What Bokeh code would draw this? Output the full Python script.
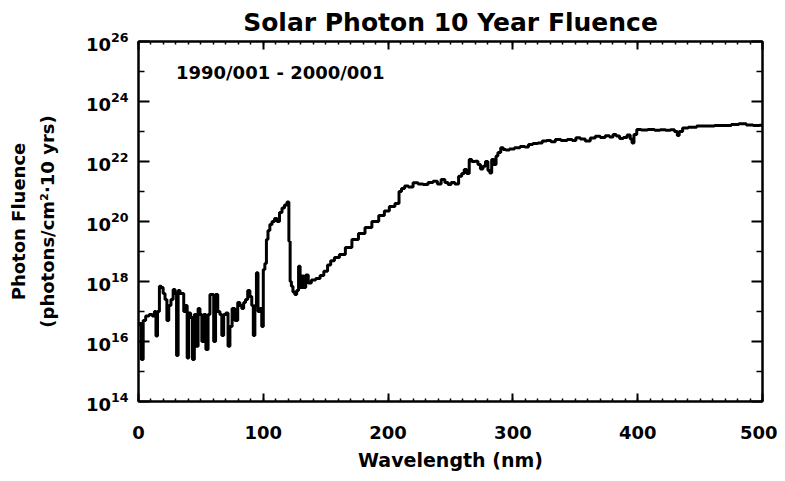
from bokeh.plotting import figure
from bokeh.models import (Range1d, FixedTicker, SingleIntervalTicker, LinearAxis,
                          LogAxis, Label, Title, ColumnDataSource,
                          CustomJSTickFormatter)
from bokeh.embed import file_html
from bokeh.resources import INLINE

# ---------------- data ----------------
title_text = "Solar Photon 10 Year Fluence"
period_text = "1990/001 - 2000/001"
x_label = "Wavelength (nm)"
y_label_1 = "Photon Fluence"
y_label_2 = "(photons/cm\u00b2\u00b710 yrs)"

x_ticks = [0, 100, 200, 300, 400, 500]
y_major_exp = [14, 16, 18, 20, 22, 24, 26]
y_minor_exp = [15, 17, 19, 21, 23, 25]

wavelength_nm = [
    0, 1.5, 3, 4.5, 7, 10, 12, 13.5, 14.5, 16, 17.5, 19, 20.5, 22, 23.5, 25, 27,
    28.5, 30, 31, 32.5, 34, 35.5, 37, 38.5, 39.5, 41, 42.5, 44, 45.5, 47, 48.5,
    50, 51.5, 53, 55, 56.5, 58, 59.5, 61, 62.5, 64.5, 66, 67.5, 69, 71, 72.5,
    74, 76, 78.5, 80.5, 82, 83.5, 85, 86.5, 88.5, 90, 91.5, 92.5, 94, 95, 96.5,
    98, 99.5, 100.5, 102, 103, 104.5, 106, 108, 110, 112, 114, 116, 118, 120,
    121, 122, 123, 124.5, 126, 127.5, 129, 130, 131.5, 133, 135, 137, 140, 144,
    147, 150, 153, 155, 159, 163, 168.5, 173.5, 179, 184, 190, 195, 199, 203,
    208, 209.5, 212, 214.5, 218, 222, 226, 230, 234, 238, 241, 244, 247, 249,
    252, 255, 258, 260, 262, 264, 266, 268, 271, 273, 275, 277, 279, 281, 282,
    284, 286, 287, 289, 291.5, 293, 295.5, 299, 303.5, 308, 311, 314, 318, 322,
    325, 329, 332, 336, 341, 346, 349, 352, 356, 360, 364, 368, 372, 376, 379,
    381.5, 384, 387, 390, 393, 395, 396, 398, 400.5, 405, 411, 416, 420, 424.5,
    428, 431, 432.5, 434, 438, 443, 451.5, 458, 465, 472, 478, 484, 490, 495, 500,
]
# log10 of photon fluence (photons/cm^2 per 10 yrs)
log10_fluence = [
    16.57, 16.6, 15.4, 16.7, 16.85, 16.9, 16.85, 17.0, 16.18, 17.0, 17.84, 17.8,
    17.6, 17.4, 16.7, 17.2, 17.4, 17.73, 17.6, 15.53, 17.7, 17.6, 17.6, 17.0,
    17.2, 15.45, 16.95, 16.8, 15.4, 16.9, 15.84, 17.1, 16.9, 16.0, 16.9, 15.73,
    16.9, 17.57, 17.57, 16.0, 17.57, 17.0, 16.9, 16.2, 16.9, 16.95, 15.84, 16.5,
    17.1, 16.7, 17.3, 17.2, 17.1, 17.3, 17.4, 17.7, 17.5, 17.2, 16.2, 17.2,
    18.29, 17.0, 17.1, 16.5, 18.4, 18.6, 19.4, 19.7, 19.9, 20.0, 20.1, 20.0,
    20.3, 20.45, 20.55, 20.65, 19.34, 18.0, 17.84, 17.65, 17.57, 17.7, 18.51,
    17.8, 18.18, 17.8, 18.22, 17.95, 18.05, 18.1, 18.2, 18.34, 18.55, 18.69,
    18.8, 18.9, 19.13, 19.4, 19.6, 19.8, 20.0, 20.2, 20.35, 20.5, 20.6, 21.0,
    21.1, 21.18, 21.15, 21.29, 21.25, 21.23, 21.3, 21.34, 21.25, 21.4, 21.3,
    21.23, 21.3, 21.25, 21.51, 21.6, 21.73, 21.6, 22.07, 22.0, 22.01, 21.9,
    21.75, 21.84, 22.0, 21.7, 21.62, 22.07, 21.9, 22.18, 22.3, 22.46, 22.4,
    22.38, 22.42, 22.46, 22.5, 22.48, 22.57, 22.6, 22.62, 22.68, 22.7, 22.66,
    22.73, 22.7, 22.73, 22.7, 22.79, 22.75, 22.68, 22.78, 22.84, 22.8, 22.86,
    22.82, 22.9, 22.85, 22.77, 22.8, 22.88, 22.75, 22.62, 22.9, 23.07, 23.05,
    23.07, 23.04, 23.06, 23.04, 23.06, 23.0, 22.87, 23.0, 23.12, 23.14, 23.18,
    23.18, 23.2, 23.2, 23.23, 23.26, 23.22, 23.2, 23.21,
]

# ---------------- figure ----------------
FONT = "DejaVu Sans"
src = ColumnDataSource(dict(x=wavelength_nm, y=[10.0 ** v for v in log10_fluence]))

p = figure(frame_width=624, frame_height=360, y_axis_type="log",
           x_range=Range1d(0, 500), y_range=Range1d(1e14, 1e26),
           output_backend="svg", toolbar_location=None,
           min_border_left=130, min_border_right=15,
           min_border_top=34, min_border_bottom=71)

p.title.text = title_text
p.title.text_font = FONT
p.title.text_font_size = "25px"
p.title.text_font_style = "bold"
p.title.align = "center"
p.title.text_color = "black"

p.grid.visible = False
p.outline_line_color = "black"
p.outline_line_width = 2
p.background_fill_color = "white"
p.border_fill_color = "white"

y_ticker = FixedTicker(ticks=[10.0 ** e for e in y_major_exp],
                       minor_ticks=[10.0 ** e for e in y_minor_exp])
x_ticker = SingleIntervalTicker(interval=100, num_minor_ticks=10)


def style_axis(ax, major_in, minor_in, show_labels):
    ax.axis_line_color = "black"
    ax.axis_line_width = 2
    ax.major_tick_line_color = "black"
    ax.minor_tick_line_color = "black"
    ax.major_tick_line_width = 2
    ax.minor_tick_line_width = 1.5
    ax.major_tick_in = major_in
    ax.major_tick_out = 0
    ax.minor_tick_in = minor_in
    ax.minor_tick_out = 0
    ax.major_label_text_font = FONT
    ax.major_label_text_font_style = "bold"
    ax.major_label_text_color = "black"
    ax.major_label_text_font_size = "18px"
    if not show_labels:
        ax.formatter = CustomJSTickFormatter(code="return '';")
        ax.major_label_standoff = 0


xa = p.xaxis[0]
xa.ticker = x_ticker
style_axis(xa, 8, 3, True)
xa.major_label_standoff = 24
xa.axis_label = x_label
xa.axis_label_text_font = FONT
xa.axis_label_text_font_style = "bold"
xa.axis_label_text_font_size = "19px"
xa.axis_label_text_color = "black"
xa.axis_label_standoff = 7

ya = p.yaxis[0]
ya.ticker = y_ticker
style_axis(ya, 11, 6, True)
ya.major_label_standoff = 10
ya.axis_label = y_label_2
ya.axis_label_text_font = FONT
ya.axis_label_text_font_style = "bold"
ya.axis_label_text_font_size = "18px"
ya.axis_label_text_color = "black"
ya.axis_label_standoff = 25

top = LinearAxis(ticker=x_ticker)
style_axis(top, 8, 3, False)
p.add_layout(top, "above")

right = LogAxis(ticker=y_ticker)
style_axis(right, 11, 6, False)
p.add_layout(right, "right")

p.add_layout(Title(text=y_label_1, text_font=FONT, text_font_size="18px",
                   text_font_style="bold", align="center", text_color="black"),
             "left")

p.step("x", "y", source=src, mode="center", line_color="black", line_width=3)

p.add_layout(Label(x=30, y=10 ** 24.97, text=period_text, text_font=FONT,
                   text_font_size="18px", text_font_style="bold",
                   text_baseline="alphabetic", text_color="black"))

open("out.html", "w").write(file_html(p, INLINE))
